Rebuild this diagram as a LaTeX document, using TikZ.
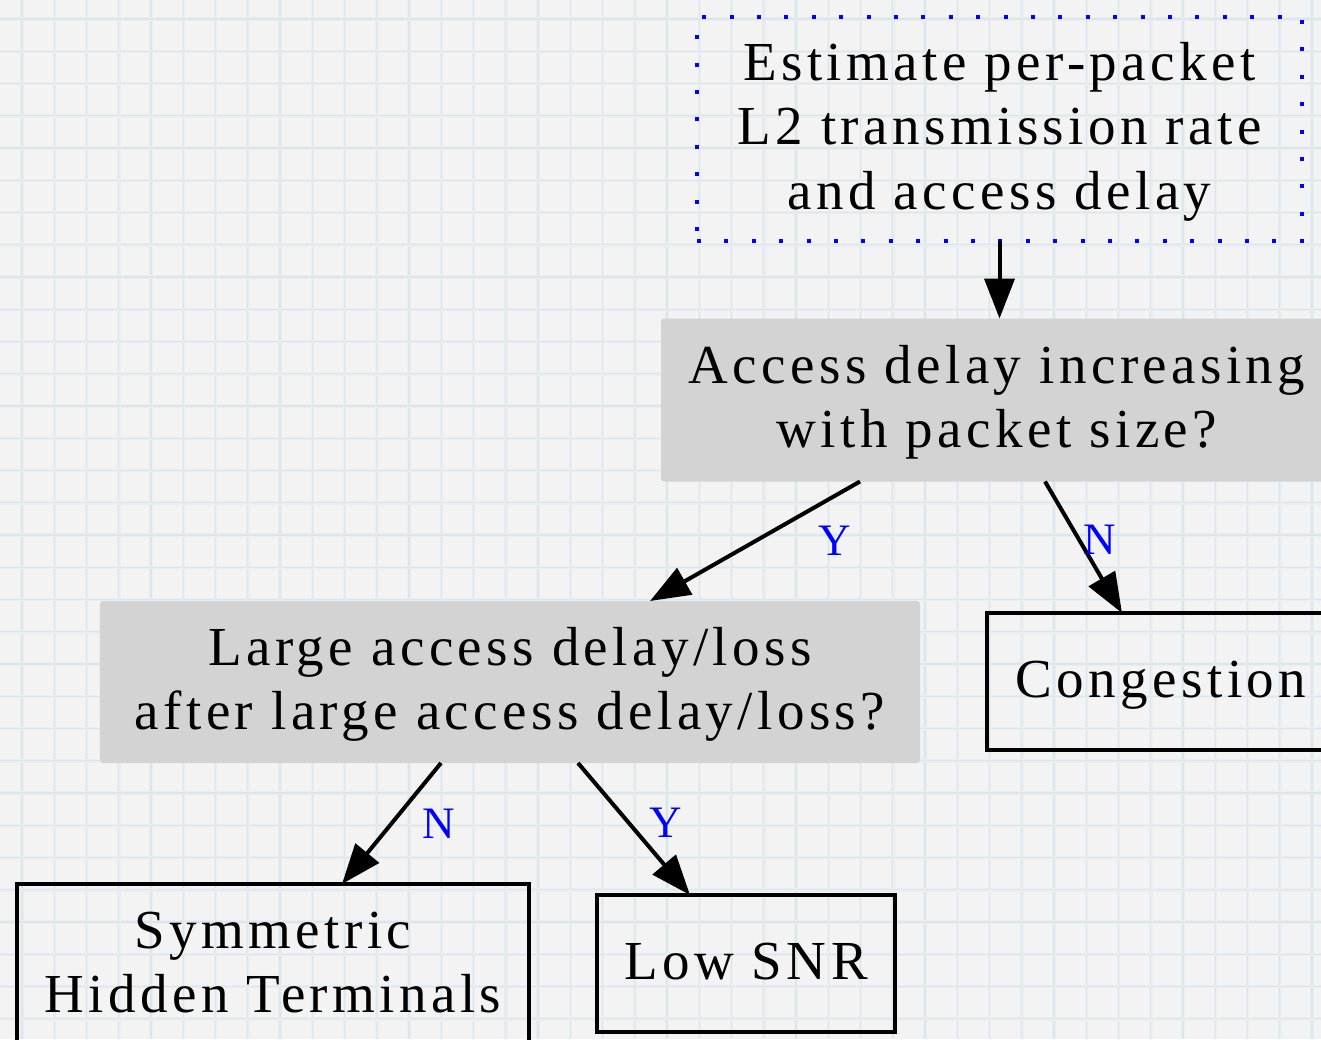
\documentclass[tikz,border=0pt]{standalone}
\usepackage{fontspec}
\setmainfont{Liberation Serif}
\newfontfamily\boxfont[LetterSpace=8]{Liberation Serif}
\usetikzlibrary{arrows.meta}
\definecolor{paper}{RGB}{243,243,244}
\definecolor{gridsoft}{RGB}{232,238,241}
\definecolor{gridline}{RGB}{220,231,236}
\definecolor{qfill}{RGB}{211,211,211}

\begin{document}
\begin{tikzpicture}[x=1bp,y=-1bp,
  every node/.style={inner sep=0pt, outer sep=0pt},
  % the last baseline sits 12bp above the bottom of the text box
  txt/.style={font=\boxfont\fontsize{55bp}{64.5bp}\selectfont, align=center, text depth=12bp},
  oneline/.style={txt, text height=43bp},
  twolines/.style={txt, text height=107.5bp},
  threelines/.style={txt, text height=172bp},
  question/.style={fill=qfill, rounded corners=3bp},
  outcome/.style={draw=black, line width=4bp},
  estimate/.style={draw=blue, line width=4bp, dash pattern=on 4bp off 23.4bp},
  arr/.style={draw=black, line width=4bp, -{Triangle[length=40bp,width=30bp]}},
  lab/.style={font=\fontsize{45bp}{50bp}\selectfont, text=blue}
]
\useasboundingbox (0,0) rectangle (1321,1039);
\clip (0,0) rectangle (1321,1039);

% squared paper
\fill[paper] (0,0) rectangle (1321,1039);
\foreach \i in {0,...,40}{
  \draw[gridsoft, line width=3.5bp] ({22+32.25*\i},0) -- ({22+32.25*\i},1039);
  \draw[gridline, line width=1.2bp] ({22+32.25*\i},0) -- ({22+32.25*\i},1039);
}
\foreach \j in {0,...,32}{
  \draw[gridsoft, line width=3.5bp] (0,{19+32.25*\j}) -- (1321,{19+32.25*\j});
  \draw[gridline, line width=1.2bp] (0,{19+32.25*\j}) -- (1321,{19+32.25*\j});
}

% decision tree
\node[estimate, threelines, minimum width=605bp, minimum height=224bp] (A) at (999.5,129)
  {Estimate per-packet\\L2 transmission rate\\and access delay};
\node[question, twolines, minimum width=672bp, minimum height=163bp] (B) at (997,400)
  {Access delay increasing\\with packet size?};
\node[question, twolines, minimum width=820bp, minimum height=162bp] (C) at (510,682)
  {Large access delay/loss\\after large access delay/loss?};
\node[outcome, oneline, minimum width=348bp, minimum height=137bp] (D) at (1161,681.5)
  {Congestion};
\node[outcome, twolines, minimum width=512bp, minimum height=162bp] (E) at (273,965)
  {Symmetric\\Hidden Terminals};
\node[outcome, oneline, minimum width=298bp, minimum height=137bp] (F) at (746,963.5)
  {Low SNR};

\draw[arr] (A.south) -- (A.south |- B.north);
\draw[arr] ([xshift=-137bp]B.south) -- ([xshift=140bp]C.north)
  node[lab, pos=0.5, xshift=80bp] (yB) {Y};
\draw[arr] ([xshift=48bp]B.south) -- ([xshift=-39bp]D.north)
  node[lab, pos=0.5, xshift=16.5bp, yshift=7bp] (nB) {N};
\draw[arr] ([xshift=-69bp]C.south) -- ([xshift=69bp]E.north)
  node[lab, pos=0.5, xshift=47.5bp] (nC) {N};
\draw[arr] ([xshift=68bp]C.south) -- ([xshift=-56bp]F.north)
  node[lab, pos=0.5, xshift=32bp, yshift=6bp] (yC) {Y};
\end{tikzpicture}
\end{document}
